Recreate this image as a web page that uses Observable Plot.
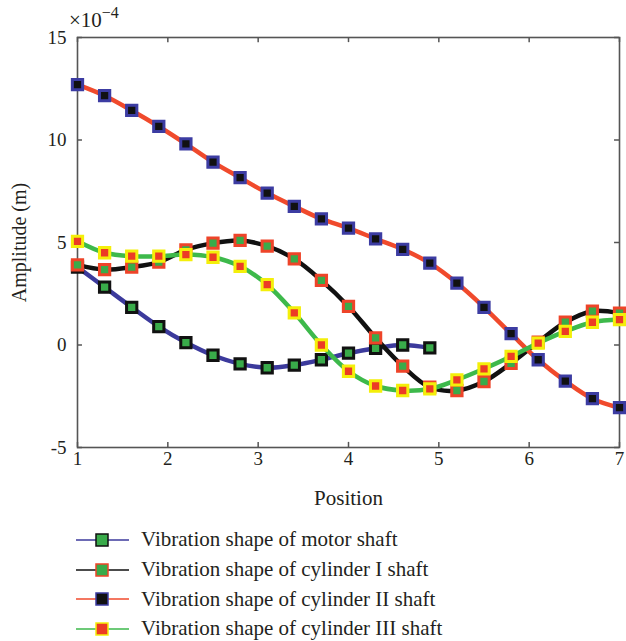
<!DOCTYPE html>
<html>
<head>
<meta charset="utf-8">
<script src="https://cdn.jsdelivr.net/npm/d3@7"></script>
<script src="https://cdn.jsdelivr.net/npm/@observablehq/plot@0.6"></script>
<style>
  html, body { margin: 0; padding: 0; background: #fff; }
  #chart { width: 626px; }
  .legend { font-family: "Liberation Serif", "Times New Roman", serif; font-size: 21px; color: #231f20; padding-top: 5px; }
  .legend .row { height: 29.7px; display: flex; align-items: center; }
  .legend svg { margin-left: 75px; margin-right: 11px; flex: none; }
</style>
</head>
<body>
<div id="chart"></div>
<script>
// ---- data (amplitude in units of 1e-4 m) ----
const positions = [1.0, 1.3, 1.6, 1.9, 2.2, 2.5, 2.8, 3.1, 3.4, 3.7, 4.0, 4.3, 4.6, 4.9, 5.2, 5.5, 5.8, 6.1, 6.4, 6.7, 7.0];
const motorShaft = [3.8, 2.82, 1.84, 0.90, 0.12, -0.50, -0.92, -1.11, -0.98, -0.72, -0.40, -0.16, 0.0, -0.14];
const cylinderI = [3.91, 3.68, 3.80, 4.04, 4.64, 4.97, 5.10, 4.82, 4.20, 3.15, 1.88, 0.35, -1.03, -2.06, -2.22, -1.78, -0.89, 0.14, 1.11, 1.65, 1.55];
const cylinderII = [12.7, 12.16, 11.44, 10.66, 9.81, 8.92, 8.16, 7.41, 6.76, 6.15, 5.70, 5.18, 4.67, 3.99, 3.02, 1.84, 0.55, -0.72, -1.76, -2.62, -3.06];
const cylinderIII = [5.06, 4.50, 4.33, 4.33, 4.41, 4.28, 3.84, 2.94, 1.57, 0.0, -1.28, -2.0, -2.22, -2.14, -1.70, -1.16, -0.56, 0.09, 0.66, 1.11, 1.24];
const seriesNames = ["Vibration shape of motor shaft", "Vibration shape of cylinder I shaft", "Vibration shape of cylinder II shaft", "Vibration shape of cylinder III shaft"];
const xTicks = [1, 2, 3, 4, 5, 6, 7];
const yTicks = [-5, 0, 5, 10, 15];

// ---- styles ----
const styles = [
  {line: "#3c3a9c", fill: "#39ab4a", stroke: "#111111"},
  {line: "#111111", fill: "#39ab4a", stroke: "#ee4429"},
  {line: "#f04a2c", fill: "#111111", stroke: "#3c3ca2"},
  {line: "#3db94b", fill: "#ec3b25", stroke: "#f4ef0a"}
];
const allValues = [motorShaft, cylinderI, cylinderII, cylinderIII];
const series = allValues.map((vals, i) => vals.map((v, j) => ({series: seriesNames[i], x: positions[j], y: v})));

const seriesMarks = series.flatMap((d, i) => [
  Plot.line(d, {x: "x", y: "y", stroke: styles[i].line, strokeWidth: 4.5, curve: "catmull-rom"}),
  Plot.dot(d, {x: "x", y: "y", symbol: "square", r: 5.8, fill: styles[i].fill, stroke: styles[i].stroke, strokeWidth: 3})
]);

const serif = "'Liberation Serif', 'Times New Roman', serif";
const tickLenX = 0.055, tickLenY = 0.25;
const chart = Plot.plot({
  width: 626,
  height: 520,
  marginLeft: 77,
  marginRight: 7,
  marginTop: 37,
  marginBottom: 73,
  x: {domain: [1, 7]},
  y: {domain: [-5, 15]},
  style: {fontFamily: serif, fontSize: "19px", color: "#231f20", background: "#fff"},
  marks: [
    Plot.axisX(xTicks, {tickSize: 0, tickPadding: 4, tickFormat: d => String(d), label: null}),
    Plot.axisY(yTicks, {tickSize: 0, tickPadding: 11, tickFormat: d => d < 0 ? "-" + Math.abs(d) : String(d), label: null}),
    // axis titles (separate axes so they can use a larger font)
    Plot.axisX(xTicks, {tickSize: 0, tickFormat: () => "", fontSize: 21, label: "Position", labelAnchor: "center", labelOffset: 57, labelArrow: "none"}),
    Plot.axisY(yTicks, {tickSize: 0, tickFormat: () => "", fontSize: 20, label: "Amplitude (m)", labelAnchor: "center", labelOffset: 66, labelArrow: "none"}),
    Plot.ruleX(xTicks, {x: d => d, y1: -5, y2: -5 + tickLenY, stroke: "#555", strokeWidth: 1.5}),
    Plot.ruleX(xTicks, {x: d => d, y1: 15, y2: 15 - tickLenY, stroke: "#555", strokeWidth: 1.5}),
    Plot.ruleY(yTicks, {y: d => d, x1: 1, x2: 1 + tickLenX, stroke: "#555", strokeWidth: 1.5}),
    Plot.ruleY(yTicks, {y: d => d, x1: 7, x2: 7 - tickLenX, stroke: "#555", strokeWidth: 1.5}),
    Plot.frame({stroke: "#555", strokeWidth: 1.6}),
    ...seriesMarks
  ]
});

// exponent label "×10^-4" above the y axis
const svg = d3.select(chart.tagName.toLowerCase() === "svg" ? chart : chart.querySelector("svg"));
const expo = svg.append("text")
  .attr("x", 69).attr("y", 27)
  .attr("text-anchor", "start")
  .attr("font-family", serif)
  .attr("font-size", 21).attr("fill", "#231f20");
expo.append("tspan").text("×10");
expo.append("tspan").attr("dy", -9).attr("font-size", 16).text("−4");

document.getElementById("chart").appendChild(chart);

// ---- legend below the SVG ----
const legend = d3.select("#chart").append("div").attr("class", "legend");
seriesNames.forEach((name, i) => {
  const row = legend.append("div").attr("class", "row");
  const s = row.append("svg").attr("width", 55).attr("height", 20);
  s.append("line").attr("x1", 1).attr("x2", 54).attr("y1", 10).attr("y2", 10).attr("stroke", styles[i].line).attr("stroke-width", 1.5);
  s.append("rect").attr("x", 21).attr("y", 4).attr("width", 12).attr("height", 12)
    .attr("fill", styles[i].fill).attr("stroke", styles[i].stroke).attr("stroke-width", 1.5);
  row.append("span").text(name);
});
</script>
</body>
</html>
